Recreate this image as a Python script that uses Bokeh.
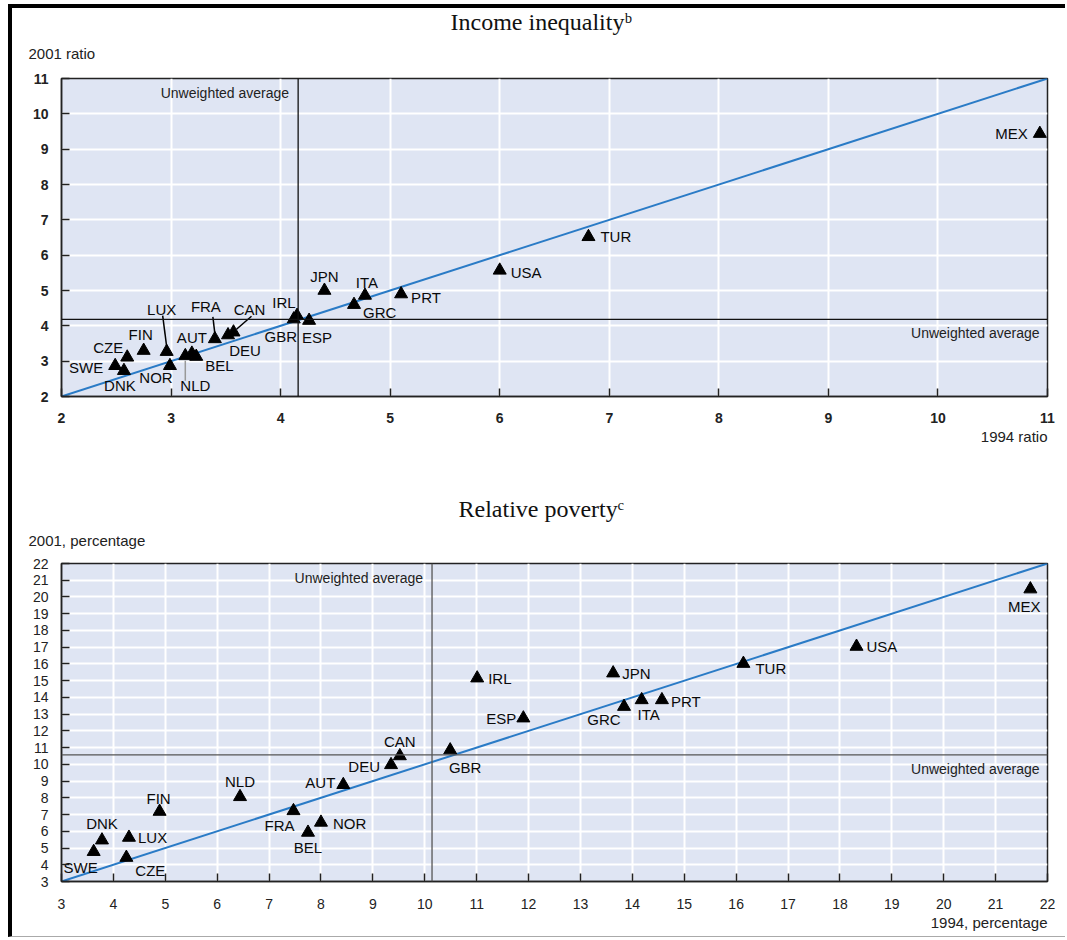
from bokeh.plotting import figure
from bokeh.models import Title, Span, Range1d, FixedTicker, ColumnDataSource
from bokeh.layouts import column
from bokeh.embed import file_html
from bokeh.resources import INLINE
from bokeh.core.properties import value

# ---------------- Data: Income inequality (ratio) ----------------
ineq_countries = ["SWE", "DNK", "CZE", "FIN", "LUX", "NOR", "AUT", "NLD", "BEL", "FRA", "CAN",
                  "DEU", "IRL", "GBR", "ESP", "JPN", "ITA", "GRC", "PRT", "USA", "TUR", "MEX"]
ineq_1994 = [2.49, 2.57, 2.60, 2.75, 2.96, 2.99, 3.19, 3.13, 3.23, 3.40, 3.57,
             3.52, 4.15, 4.12, 4.26, 4.40, 4.77, 4.67, 5.10, 6.00, 6.81, 10.93]
ineq_2001 = [2.87, 2.73, 3.11, 3.30, 3.27, 2.87, 3.22, 3.15, 3.13, 3.63, 3.82,
             3.74, 4.29, 4.19, 4.15, 5.00, 4.86, 4.60, 4.90, 5.57, 6.52, 9.44]
ineq_avg_1994 = 4.16
ineq_avg_2001 = 4.18
ineq_ticks = [2, 3, 4, 5, 6, 7, 8, 9, 10, 11]

# ---------------- Data: Relative poverty (percentage) ----------------
pov_countries = ["SWE", "DNK", "LUX", "CZE", "FIN", "NLD", "FRA", "BEL", "NOR", "AUT", "DEU",
                 "CAN", "GBR", "IRL", "ESP", "JPN", "GRC", "ITA", "PRT", "TUR", "USA", "MEX"]
pov_1994 = [3.62, 3.78, 4.30, 4.25, 4.89, 6.44, 7.47, 7.75, 8.00, 8.43, 9.35,
            9.52, 10.49, 11.01, 11.90, 13.63, 13.84, 14.18, 14.57, 16.14, 18.32, 21.67]
pov_2001 = [4.78, 5.47, 5.63, 4.43, 7.18, 8.06, 7.22, 5.93, 6.53, 8.78, 9.97,
            10.50, 10.85, 15.15, 12.76, 15.45, 13.45, 13.85, 13.85, 16.02, 17.04, 20.47]
pov_avg_1994 = 10.14
pov_avg_2001 = 10.57
pov_ticks = list(range(3, 23))

# ---------------- Label styling (pixel offsets / alignment) ----------------
ineq_align = ["right", "center", "right", "center", "center", "center", "center", "center", "left",
              "center", "center", "center", "center", "center", "center", "center", "center", "left",
              "left", "left", "left", "right"]
ineq_dx = [-12, -4, -4, -3, -5, -14, 0, 10, 9, -9, 16, 17, -13, -13, 8, 0, 2, 9, 10, 11, 12, -12]
ineq_dy = [2, 15, -10, -16, -42, 12, -16, 30, 9, -32, -23, 15, -13, 17, 17, -14, -13, 8, 3, 2, 0, 0]
# leader lines: (country, start dx, start dy, end dx, end dy, colour)
ineq_leaders = [("LUX", 0, -5, -4, -36, "black"),
                ("FRA", 0, -5, -2, -22, "black"),
                ("CAN", 3, -3, 18, -16, "black"),
                ("NLD", 0, 5, 0, 25, "#999999")]

pov_align = ["center", "center", "left", "center", "center", "center", "center", "center", "left",
             "right", "right", "center", "center", "left", "right", "left", "center", "center",
             "left", "left", "left", "center"]
pov_dx = [-13, 0, 9, 24, -1, 0, -14, 0, 12, -8, -11, 0, 15, 11, -7, 9, -20, 7, 9, 12, 10, -6]
pov_dy = [16, -17, 0, 13, -13, -15, 15, 15, 1, -2, 2, -14, 17, 0, 0, 0, 13, 15, 2, 5, 0, 17]

BG = "#dfe5f3"
LINE_BLUE = "#2a7bc6"
SANS = "Liberation Sans"
SERIF = "Liberation Serif"


def make_chart(title, ylab, xlab, xs, ys, names, aligns, dxs, dys, avg_x, avg_y, ticks,
               lo, hi, width, height, borders, tick_bold, title_standoff, title_offset,
               sub_standoff, label_standoff, avg_color, leaders=None):
    p = figure(width=width, height=height, output_backend="svg", toolbar_location=None,
               x_range=Range1d(lo, hi), y_range=Range1d(lo, hi),
               min_border_left=borders[0], min_border_right=borders[1],
               min_border_top=borders[2], min_border_bottom=borders[3])
    p.title = None
    p.background_fill_color = BG
    p.border_fill_color = "white"
    p.outline_line_color = "#222222"
    p.outline_line_width = 1.5

    for ax in (p.xaxis, p.yaxis):
        ax.ticker = FixedTicker(ticks=ticks)
        ax.major_tick_in = 8
        ax.major_tick_out = 0
        ax.minor_tick_in = 0
        ax.minor_tick_out = 0
        ax.axis_line_color = "#222222"
        ax.axis_line_width = 1.5
        ax.major_tick_line_color = "#222222"
        ax.major_tick_line_width = 1.5
        ax.major_label_text_font = SANS
        ax.major_label_text_font_size = "14px"
        ax.major_label_text_font_style = "bold" if tick_bold else "normal"
        ax.major_label_text_color = "#222222"
    p.xaxis.major_label_standoff = label_standoff
    p.yaxis.major_label_standoff = 13
    p.grid.grid_line_color = "white"
    p.grid.grid_line_width = 2
    p.grid.ticker = FixedTicker(ticks=ticks)

    # titles above (first added sits nearest the plot)
    p.add_layout(Title(text=ylab, align="left", offset=-33, text_font=SANS,
                       text_font_size="15px", text_font_style="normal",
                       text_color="#222222", standoff=sub_standoff), "above")
    p.add_layout(Title(text=title, align="left", offset=title_offset, text_font=SERIF,
                       text_font_size="24px", text_font_style="normal",
                       text_color="#111111", standoff=title_standoff), "above")
    p.add_layout(Title(text=xlab, align="right", text_font=SANS, text_font_size="15px",
                       text_font_style="normal", text_color="#222222", standoff=0), "below")

    # 45 degree line
    p.line([lo, hi], [lo, hi], line_color=LINE_BLUE, line_width=2)

    # average lines
    p.add_layout(Span(location=avg_x, dimension="height", line_color=avg_color, line_width=1.3))
    p.add_layout(Span(location=avg_y, dimension="width", line_color=avg_color, line_width=1.3))
    p.text(x=[avg_x], y=[hi], text=["Unweighted average"], x_offset=[-9], y_offset=[14],
           text_align="right", text_baseline="middle", text_font=value(SANS),
           text_font_size="14px", text_color="#222222")
    p.text(x=[hi], y=[avg_y], text=["Unweighted average"], x_offset=[-8], y_offset=[14],
           text_align="right", text_baseline="middle", text_font=value(SANS),
           text_font_size="14px", text_color="#222222")

    # leader lines
    if leaders:
        fw = width - borders[0] - borders[1]
        fh = height - borders[2] - borders[3]
        sx = (hi - lo) / fw
        sy = (hi - lo) / fh
        x0s, y0s, x1s, y1s, cols = [], [], [], [], []
        for name, a, b, c, d, col in leaders:
            i = names.index(name)
            x0s.append(xs[i] + a * sx)
            y0s.append(ys[i] - b * sy)
            x1s.append(xs[i] + c * sx)
            y1s.append(ys[i] - d * sy)
            cols.append(col)
        p.segment(x0=x0s, y0=y0s, x1=x1s, y1=y1s, line_color=cols, line_width=1.5)

    # markers
    p.scatter(x=xs, y=ys, marker="triangle", size=13, color="black")

    # labels grouped by alignment
    for al in ("left", "center", "right"):
        idx = [i for i, a in enumerate(aligns) if a == al]
        if not idx:
            continue
        src = ColumnDataSource(dict(
            x=[xs[i] for i in idx], y=[ys[i] for i in idx], t=[names[i] for i in idx],
            dx=[dxs[i] for i in idx], dy=[dys[i] for i in idx]))
        p.text(x="x", y="y", text="t", x_offset="dx", y_offset="dy", source=src,
               text_align=al, text_baseline="middle", text_font=value(SANS),
               text_font_size="15px", text_color="#0a0a0a")
    return p


p1 = make_chart("Income inequality\u1d47", "2001 ratio", "1994 ratio",
                ineq_1994, ineq_2001, ineq_countries, ineq_align, ineq_dx, ineq_dy,
                ineq_avg_1994, ineq_avg_2001, ineq_ticks, 2, 11,
                width=1053, height=462, borders=(49, 18, 70, 74), tick_bold=True,
                title_standoff=-17, title_offset=389, sub_standoff=33, label_standoff=16,
                avg_color="#111111", leaders=ineq_leaders)

p2 = make_chart("Relative poverty\u1d9c", "2001, percentage", "1994, percentage",
                pov_1994, pov_2001, pov_countries, pov_align, pov_dx, pov_dy,
                pov_avg_1994, pov_avg_2001, pov_ticks, 3, 22,
                width=1053, height=466, borders=(49, 18, 93, 55), tick_bold=False,
                title_standoff=-13, title_offset=397, sub_standoff=29, label_standoff=17,
                avg_color="#555555")

layout = column(p1, p2, margin=(4, 0, 0, 8),
                styles={"border-top": "4px solid #000", "border-left": "4px solid #000",
                        "border-bottom": "1px solid #aaaaaa"})

open("out.html", "w").write(file_html(layout, INLINE))
